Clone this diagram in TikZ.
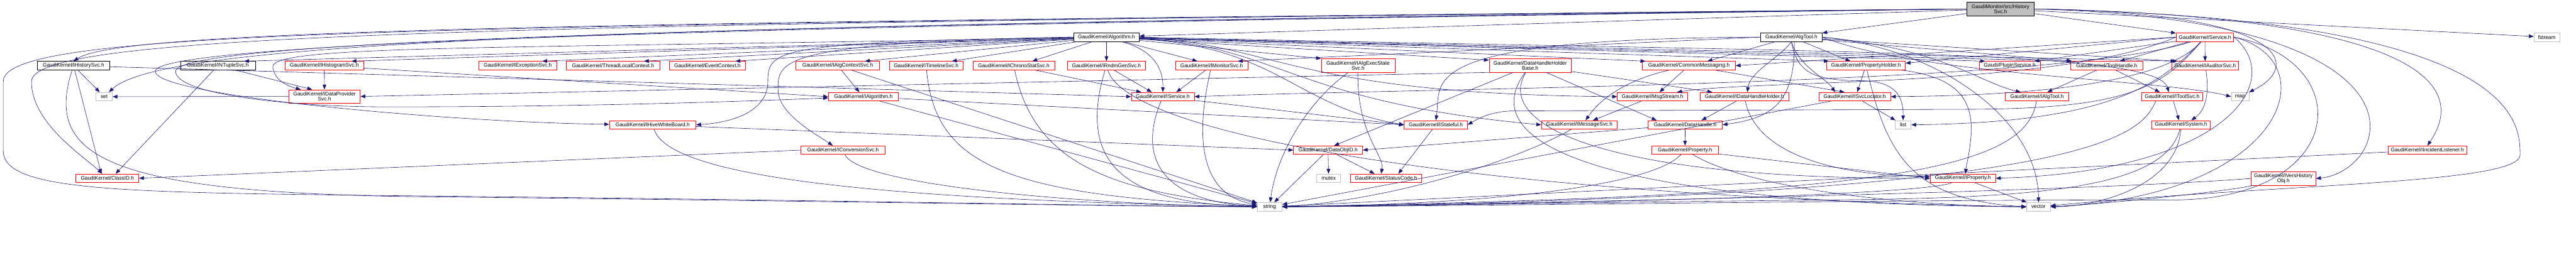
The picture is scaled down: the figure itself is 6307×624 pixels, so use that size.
\documentclass[tikz,border=0pt]{standalone}
\usepackage{fontspec}
\setmainfont{Liberation Sans}
\usetikzlibrary{arrows.meta}
\definecolor{navy}{RGB}{25,25,112}
\definecolor{lgray}{RGB}{191,191,191}
\newcommand\nfs{\fontsize{12.8}{12.4}\selectfont}
\tikzset{
 box/.style={draw, line width=1pt, inner sep=0pt, minimum height=21pt, align=center, font=\nfs, text=black},
 rbox/.style={box, draw=red},
 kbox/.style={box, draw=black},
 gbox/.style={box, draw=lgray},
 rootbox/.style={box, draw=black, fill=lgray},
 two/.style={minimum height=33pt},
 dep/.style={draw=navy, line width=0.9pt, -{Triangle[length=12pt,width=9pt]}},
}
\begin{document}
\begin{tikzpicture}[x=1pt,y=1pt]
\useasboundingbox (0,0) rectangle (6307,-624);
% row 0
\node[rootbox, two, minimum width=164pt] (R) at (4898,-22) {GaudiMonitor/src/History\\Svc.h};
% row 1
\node[kbox, minimum width=160pt] (A) at (2709,-91) {GaudiKernel/Algorithm.h};
\node[kbox, minimum width=150pt] (T) at (4386,-91) {GaudiKernel/AlgTool.h};
\node[rbox, minimum width=141pt] (S) at (5398.5,-91) {GaudiKernel/Service.h};
\node[gbox, minimum width=63pt] (fstream) at (6235.5,-91) {fstream};
% row 2
\node[kbox, minimum width=176pt] (IHS) at (180,-161) {GaudiKernel/IHistorySvc.h};
\node[kbox, minimum width=183pt] (NT) at (533.5,-161) {GaudiKernel/INTupleSvc.h};
\node[rbox, minimum width=192pt] (HG) at (794,-161) {GaudiKernel/IHistogramSvc.h};
\node[rbox, minimum width=191pt] (EX) at (1267.5,-161) {GaudiKernel/IExceptionSvc.h};
\node[rbox, minimum width=230pt] (TLC) at (1501,-161) {GaudiKernel/ThreadLocalContext.h};
\node[rbox, minimum width=186pt] (EC) at (1732,-161) {GaudiKernel/EventContext.h};
\node[rbox, minimum width=204pt] (ACS) at (2051,-161) {GaudiKernel/IAlgContextSvc.h};
\node[rbox, minimum width=181pt] (TL) at (2267.5,-161) {GaudiKernel/ITimelineSvc.h};
\node[rbox, minimum width=200pt] (CS) at (2482,-161) {GaudiKernel/IChronoStatSvc.h};
\node[rbox, minimum width=192pt] (RG) at (2709,-161) {GaudiKernel/IRndmGenSvc.h};
\node[rbox, minimum width=177pt] (MS) at (2966.5,-161) {GaudiKernel/IMonitorSvc.h};
\node[rbox, two, minimum width=180pt] (AES) at (3325,-160.5) {GaudiKernel/IAlgExecState\\Svc.h};
\node[rbox, two, minimum width=201pt] (DHHB) at (3746.5,-160.5) {GaudiKernel/DataHandleHolder\\Base.h};
\node[rbox, minimum width=228pt] (CM) at (4135,-161) {GaudiKernel/CommonMessaging.h};
\node[rbox, minimum width=193pt] (PH) at (4568.5,-161) {GaudiKernel/PropertyHolder.h};
\node[rbox, minimum width=149pt] (PS) at (4920.5,-161) {Gaudi/PluginService.h};
\node[rbox, minimum width=178pt] (TH) at (5158,-161) {GaudiKernel/ToolHandle.h};
\node[rbox, minimum width=164pt] (AUD) at (5399,-161) {GaudiKernel/IAuditorSvc.h};
% row 3
\node[gbox, minimum width=40pt] (set) at (255,-237) {set};
\node[rbox, two, minimum width=175pt] (DP) at (794.5,-236.5) {GaudiKernel/IDataProvider\\Svc.h};
\node[rbox, minimum width=172pt] (ALG) at (2114,-237) {GaudiKernel/IAlgorithm.h};
\node[rbox, minimum width=154pt] (SVC) at (2847,-237) {GaudiKernel/IService.h};
\node[rbox, minimum width=172pt] (MSG) at (4046,-237) {GaudiKernel/MsgStream.h};
\node[rbox, minimum width=216pt] (DHH) at (4271,-237) {GaudiKernel/IDataHandleHolder.h};
\node[rbox, minimum width=176pt] (SL) at (4541,-237) {GaudiKernel/ISvcLocator.h};
\node[rbox, minimum width=155pt] (IAT) at (4987.5,-237) {GaudiKernel/IAlgTool.h};
\node[rbox, minimum width=150pt] (TS) at (5318,-237) {GaudiKernel/IToolSvc.h};
\node[gbox, minimum width=43pt] (map) at (5484.5,-237) {map};
% row 4
\node[rbox, minimum width=212pt] (HWB) at (1598,-306) {GaudiKernel/IHiveWhiteBoard.h};
\node[rbox, minimum width=155pt] (ST) at (3515.5,-306) {GaudiKernel/IStateful.h};
\node[rbox, minimum width=186pt] (MSV) at (3867,-306) {GaudiKernel/IMessageSvc.h};
\node[rbox, minimum width=182pt] (DH) at (4126,-306) {GaudiKernel/DataHandle.h};
\node[gbox, minimum width=39pt] (list) at (4659.5,-306) {list};
\node[rbox, minimum width=144pt] (SYS) at (5340,-306) {GaudiKernel/System.h};
% row 5
\node[rbox, minimum width=206pt] (CNV) at (2064,-368) {GaudiKernel/IConversionSvc.h};
\node[rbox, minimum width=169pt] (DOI) at (3251.5,-368) {GaudiKernel/DataObjID.h};
\node[rbox, minimum width=163pt] (PROP) at (4125.5,-368) {GaudiKernel/Property.h};
\node[rbox, minimum width=192pt] (IL) at (5943,-368) {GaudiKernel/IIncidentListener.h};
% row 6
\node[rbox, minimum width=154pt] (CID) at (263,-437) {GaudiKernel/ClassID.h};
\node[gbox, minimum width=58pt] (mutex) at (3253,-437) {mutex};
\node[rbox, minimum width=175pt] (SC) at (3393.5,-437) {GaudiKernel/StatusCode.h};
\node[rbox, minimum width=160pt] (IP) at (4806,-437) {GaudiKernel/IProperty.h};
\node[rbox, two, minimum width=159pt] (VHO) at (5590.5,-437.5) {GaudiKernel/IVersHistory\\Obj.h};
% row 7
\node[gbox, minimum width=61pt] (str) at (3108.5,-507) {string};
\node[gbox, minimum width=58pt] (vec) at (4991,-507) {vector};

% ---- root edges
\draw[dep] (R) -- (A);
\draw[dep] (R) -- (T);
\draw[dep] (R) -- (S);
\draw[dep] (R) -- (fstream);
\draw[dep] (R.west) .. controls (1500,-55) and (300,-70) .. (IHS.north);
\draw[dep] (R.west) .. controls (1200,-60) and (77,-80) .. (77,-200) .. controls (77,-300) and (200,-380) .. (CID);
\draw[dep] (R.west) .. controls (1500,-62) and (400,-100) .. (set);
\draw[dep] (R.west) .. controls (1000,-64) and (8,-70) .. (8,-200) -- (8,-370) .. controls (8,-470) and (300,-472) .. (1000,-480) .. controls (2000,-490) and (2700,-505) .. (str);
\draw[dep] (R.west) .. controls (2000,-60) and (380,-100) .. (380,-175) .. controls (380,-235) and (1100,-300) .. (HWB);
\draw[dep] (R.west) .. controls (2000,-58) and (430,-95) .. (430,-175) .. controls (430,-230) and (700,-262) .. (950,-262) .. controls (1500,-262) and (1900,-245) .. (ALG);
\draw[dep] (R.east) .. controls (5600,-30) and (5640,-160) .. (map);
\draw[dep] (R.east) .. controls (5900,-40) and (6050,-200) .. (IL.north);
\draw[dep] (R.east) .. controls (6170,-45) and (6170,-300) .. (6170,-380) .. controls (6170,-450) and (5600,-450) .. (vec);
\draw[dep] (R.east) .. controls (6000,-50) and (5850,-420) .. (VHO.east);

% ---- Algorithm.h
\draw[dep] (A) -- ([xshift=-28pt]NT.north east);
\draw[dep] (A) -- ([xshift=-30pt]HG.north east);
\draw[dep] (A) -- ([xshift=-36pt]EX.north east);
\draw[dep] (A) -- ([xshift=-40pt]TLC.north east);
\draw[dep] (A) -- ([xshift=-25pt]EC.north east);
\draw[dep] (A) -- ([xshift=-36pt]ACS.north east);
\draw[dep] (A) -- ([xshift=-28pt]TL.north east);
\draw[dep] (A) -- ([xshift=-55pt]CS.north east);
\draw[dep] (A) -- (RG);
\draw[dep] (A) -- ([xshift=-35pt]MS.north);
\draw[dep] (A) -- (AES.north west);
\draw[dep] (A) -- ([yshift=-4pt]DHHB.north west);
\draw[dep] (A) -- ([xshift=8pt]CM.north west);
\draw[dep] (A) -- ([xshift=6pt]PH.north west);
\draw[dep] (A) -- ([xshift=15pt]PS.north west);
\draw[dep] (A) -- ([xshift=3pt]TH.north west);
\draw[dep] (A) -- ([xshift=15pt]AUD.north west);
\draw[dep] (A) .. controls (1200,-120) and (660,-110) .. (668,-165) .. controls (672,-195) and (700,-210) .. ([xshift=30pt]DP.north west);
\draw[dep] ([xshift=36pt]A.south) .. controls (2835,-125) and (2848,-180) .. (SVC.north);
\draw[dep] (A.east) .. controls (3130,-110) and (3160,-230) .. (MSG.west);
\draw[dep] (A) .. controls (3130,-110) and (3160,-250) .. (MSV.west);
\draw[dep] (A) .. controls (3130,-115) and (3170,-260) .. (ST.west);
\draw[dep] (A.west) .. controls (1900,-105) and (1880,-120) .. (1880,-200) .. controls (1880,-270) and (1800,-300) .. (HWB.east);
\draw[dep] (A.west) .. controls (1900,-105) and (1905,-150) .. (1905,-220) .. controls (1905,-280) and (2000,-330) .. ([xshift=-25pt]CNV.north);
\draw[dep] (A.east) .. controls (4500,-130) and (5280,-120) .. ([xshift=-8pt]TS.north);

% ---- AlgTool.h
\draw[dep] (T) -- ([xshift=-69pt]CM.north east);
\draw[dep] (T) -- ([xshift=-38pt]PH.north);
\draw[dep] (T.south) .. controls (4360,-140) and (4285,-175) .. ([xshift=7pt]DHH.north);
\draw[dep] (T.south) .. controls (4405,-165) and (4470,-190) .. ([xshift=-48pt]SL.north);
\draw[dep] (T.south) .. controls (4400,-185) and (4450,-197) .. (4560,-198) .. controls (4640,-200) and (4660,-235) .. (list.north);
\draw[dep] ([xshift=7pt]T.south) .. controls (4396,-260) and (4330,-290) .. (DH.east);
\draw[dep] (T.west) -- ([xshift=-25pt]MS.north east);
\draw[dep] (T.west) .. controls (3450,-95) and (3530,-200) .. (ST.north);
\draw[dep] (T) -- ([xshift=5pt]TH.north west);
\draw[dep] (T) -- ([xshift=10pt]AUD.north west);
\draw[dep] (T.east) .. controls (4760,-120) and (4840,-200) .. ([xshift=-40pt]IAT.north);
\draw[dep] (T.east) .. controls (4760,-120) and (4990,-300) .. (vec.north);
\draw[dep] (T.east) .. controls (4700,-185) and (5300,-195) .. (map.west);

% ---- Service.h
\draw[dep] (S) -- (AUD);
\draw[dep] (S.west) -- (CM.east);
\draw[dep] (S.west) -- ([yshift=6pt]PH.east);
\draw[dep] (S) -- ([xshift=-15pt]PS.north east);
\draw[dep] (S) -- ([xshift=32pt]TH.north);
\draw[dep] (S.west) .. controls (5040,-215) and (4300,-195) .. ([xshift=60pt]MSG.north);
\draw[dep] (S) .. controls (5280,-230) and (4800,-235) .. (SL.east);
\draw[dep] (S) .. controls (5290,-220) and (5200,-268) .. (4800,-268) -- (3700,-272) .. controls (3650,-274) and (3620,-290) .. (ST.east);
\draw[dep] (S) .. controls (5285,-215) and (5150,-300) .. (list.east);
\draw[dep] (S.east) .. controls (5600,-200) and (5450,-420) .. (IP.east);
\draw[dep] (S.east) .. controls (5700,-150) and (5600,-480) .. (vec.east);
\draw[dep] (S.east) .. controls (5780,-150) and (5750,-500) .. (5300,-490) .. controls (4600,-490) and (3600,-505) .. (str.east);
\draw[dep] (S) .. controls (5040,-210) and (3500,-215) .. (SVC.east);

% ---- others
\draw[dep] (IHS) -- (set);
\draw[dep] (IHS) -- ([xshift=-15pt]CID.north);
\draw[dep] (IHS) .. controls (110,-380) and (250,-470) .. (1000,-482) .. controls (2000,-492) and (2700,-506) .. (str);
\draw[dep] (IHS) -- (SVC.west);
\draw[dep] (NT) -- ([xshift=20pt]CID.north);
\draw[dep] (NT) -- ([xshift=-30pt]DP.north);
\draw[dep] (HG) -- (DP);
\draw[dep] (HG) -- (ALG.west);
\draw[dep] (DP.west) -- (set.east);
\draw[dep] (DHHB.south west) -- (DP.east);
\draw[dep] (ACS) -- ([xshift=-10pt]ALG.north);
\draw[dep] (ACS) -- (str);
\draw[dep] (ALG) -- (str);
\draw[dep] (ALG) -- (ST.west);
\draw[dep] (TL) .. controls (2290,-400) and (2450,-480) .. (str);
\draw[dep] (CS) .. controls (2530,-390) and (2700,-470) .. (str);
\draw[dep] (CS) -- (SVC);
\draw[dep] (RG) .. controls (2630,-420) and (2780,-500) .. (str);
\draw[dep] (RG) -- ([xshift=-27pt]SVC.north);
\draw[dep] (RG) .. controls (2760,-330) and (3600,-480) .. (vec.west);
\draw[dep] (MS) -- ([xshift=33pt]SVC.north);
\draw[dep] (MS) .. controls (2920,-360) and (2950,-480) .. (str);
\draw[dep] (SVC) .. controls (2780,-400) and (2860,-495) .. (str);
\draw[dep] (SVC) -- (ST.west);
\draw[dep] (AES) .. controls (3322,-330) and (3390,-380) .. ([xshift=-12pt]SC.north);
\draw[dep] (AES) .. controls (3200,-250) and (3125,-380) .. (str);
\draw[dep] (DHHB) -- ([xshift=30pt]DHH.north west);
\draw[dep] (DHHB) -- ([xshift=15pt]DOI.north);
\draw[dep] (DHHB) -- ([xshift=-70pt]DH.north);
\draw[dep] (DHHB) .. controls (3660,-300) and (3900,-440) .. (IP.west);
\draw[dep] (DHHB) .. controls (3600,-360) and (3950,-500) .. (vec.west);
\draw[dep] (CM) -- ([xshift=17pt]MSG.north);
\draw[dep] (CM) .. controls (3985,-195) and (3920,-240) .. ([xshift=15pt]MSV.north);
\draw[dep] (CM) -- ([xshift=-25pt]SL.north);
\draw[dep] (MSG) -- ([xshift=33pt]MSV.north);
\draw[dep] (PH) -- ([xshift=6pt]SL.north);
\draw[dep] (PH) .. controls (4800,-190) and (4830,-250) .. (4826,-330) .. controls (4822,-380) and (4815,-400) .. ([xshift=6pt]IP.north);
\draw[dep] (PH) .. controls (4620,-380) and (4680,-490) .. (vec.west);
\draw[dep] (TH) -- ([xshift=25pt]IAT.north);
\draw[dep] (TH) -- ([xshift=-30pt]TS.north);
\draw[dep] (AUD) .. controls (5410,-230) and (5400,-270) .. ([xshift=25pt]SYS.north);
\draw[dep] (TS) -- ([xshift=-5pt]SYS.north);
\draw[dep] ([xshift=-40pt]TS.south) .. controls (5240,-330) and (5150,-480) .. (str.east);
\draw[dep] (SL) -- (list);
\draw[dep] (SL) -- (str);
\draw[dep] (IAT) .. controls (4960,-420) and (4600,-480) .. (str);
\draw[dep] (SYS) .. controls (5330,-450) and (5150,-505) .. (vec.east);
\draw[dep] (SYS) .. controls (5300,-460) and (5000,-485) .. (4500,-490) .. controls (3800,-497) and (3400,-505) .. (str.east);
\draw[dep] (PROP) -- (IP.west);
\draw[dep] (DH) -- (PROP);
\draw[dep] (DH) -- (DOI.east);
\draw[dep] (DHH) -- ([xshift=40pt]DH.north);
\draw[dep] (DHH) .. controls (4300,-380) and (4500,-432) .. ([yshift=5pt]IP.west);
\draw[dep] (PROP) .. controls (4050,-450) and (3700,-500) .. (str.east);
\draw[dep] (PROP) .. controls (4300,-470) and (4700,-505) .. (vec.west);
\draw[dep] (IP) -- (vec);
\draw[dep] (IP) .. controls (4700,-480) and (3800,-500) .. (str.east);
\draw[dep] (DOI) -- (mutex);
\draw[dep] (DOI) -- ([xshift=-28pt]SC.north);
\draw[dep] (DOI) -- (str);
\draw[dep] (ST) -- ([xshift=30pt]SC.north);
\draw[dep] (MSV) .. controls (3700,-400) and (3400,-490) .. (str.east);
\draw[dep] (HWB) -- (DOI.west);
\draw[dep] (HWB) .. controls (1640,-440) and (2200,-490) .. (str.west);
\draw[dep] (CNV.west) -- (CID.east);
\draw[dep] (CNV) .. controls (2100,-450) and (2600,-500) .. (str.west);
\draw[dep] (VHO) .. controls (5450,-470) and (5150,-500) .. (vec.east);
\draw[dep] (VHO.west) .. controls (5100,-470) and (3700,-500) .. (str.east);
\draw[dep] (IL) -- (str);
\end{tikzpicture}
\end{document}
